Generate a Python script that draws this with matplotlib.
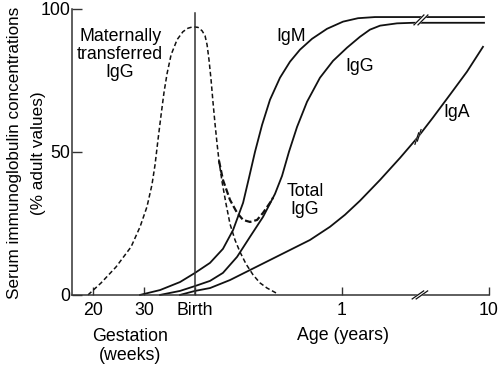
import numpy as np
import matplotlib
matplotlib.use('Agg')
import matplotlib.pyplot as plt
import matplotlib.transforms as mtransforms

plt.rcParams['font.family'] = ['Liberation Sans', 'DejaVu Sans']

# x is the position along the broken axis: birth = 0, 1 year = 1, 10 years = 2
# (gestation weeks sit to the left of birth, 28.8 weeks per unit)
tick_pos = [-0.694, -0.347, 0.0, 1.0, 2.0]
tick_labels = ['20', '30', 'Birth', '1', '10']
y_ticks = [0, 50, 100]

maternal_x = [-0.728, -0.639, -0.537, -0.435, -0.374, -0.327, -0.293, -0.272, -0.252,
              -0.231, -0.211, -0.190, -0.163, -0.122, -0.082, -0.048, -0.014, 0.020,
              0.048, 0.068, 0.082, 0.095, 0.109, 0.122, 0.136, 0.150, 0.163, 0.184,
              0.211, 0.238, 0.272, 0.306, 0.347, 0.395, 0.442, 0.490, 0.565]
maternal_y = [0.0, 4.2, 9.8, 16.8, 23.8, 30.8, 38.5, 45.5, 54.2, 62.9, 70.8, 77.4,
              83.9, 89.2, 92.0, 93.2, 93.7, 93.5, 92.3, 90.6, 87.4, 82.2, 75.2, 67.5,
              59.8, 52.8, 46.9, 39.5, 31.8, 24.8, 19.2, 15.0, 10.8, 7.0, 4.2, 2.4, 0.3]

total_x = [0.163, 0.190, 0.238, 0.286, 0.327, 0.374, 0.422, 0.463, 0.510, 0.531]
total_y = [46.9, 40.2, 33.2, 28.7, 26.2, 25.5, 26.2, 28.7, 32.2, 34.0]

igm_x = [-0.374, -0.238, -0.102, 0.0, 0.102, 0.190, 0.259, 0.327, 0.367, 0.408, 0.456,
         0.510, 0.578, 0.646, 0.714, 0.796, 0.898, 1.007, 1.109, 1.224, 1.966]
igm_y = [0.0, 1.7, 4.5, 7.7, 11.2, 16.1, 22.7, 32.2, 40.9, 50.0, 59.4, 68.2, 75.9,
         81.5, 85.7, 89.5, 93.0, 95.5, 96.7, 97.1, 97.1]

igg_x = [-0.238, -0.102, 0.0, 0.102, 0.190, 0.286, 0.374, 0.463, 0.544, 0.592, 0.639,
         0.694, 0.762, 0.850, 0.939, 1.034, 1.122, 1.190, 1.259, 1.374, 1.483, 1.966]
igg_y = [0.0, 1.4, 3.1, 4.9, 7.7, 13.3, 20.3, 27.3, 35.3, 41.6, 50.0, 58.7, 67.5,
         75.9, 81.8, 86.4, 90.2, 92.7, 94.1, 94.9, 95.1, 95.1]

iga_x = [-0.102, 0.0, 0.102, 0.238, 0.374, 0.510, 0.646, 0.782, 0.918, 1.020, 1.122,
         1.259, 1.395, 1.517, 1.619, 1.735, 1.850, 1.959]
iga_y = [0.0, 1.4, 2.4, 5.2, 8.7, 12.2, 15.7, 19.2, 23.8, 28.0, 32.9, 40.2, 47.9,
         55.2, 62.0, 70.0, 78.0, 86.7]

fig = plt.figure(figsize=(5, 3.65), dpi=100)
ax = fig.add_axes([0.144, 0.192, 0.834, 0.784])
ax.set_xlim(-0.837, 2.0)
ax.set_ylim(0, 100)

ink = '#111111'
ax.plot(maternal_x, maternal_y, color=ink, lw=1.1, ls=(0, (3, 1.8)), clip_on=False)
ax.plot(total_x, total_y, color=ink, lw=1.6, ls=(0, (3, 1.3)), clip_on=False)
ax.plot(igm_x, igm_y, color=ink, lw=1.3, clip_on=False)
ax.plot(igg_x, igg_y, color=ink, lw=1.3, clip_on=False)
ax.plot(iga_x, iga_y, color=ink, lw=1.3, clip_on=False)
ax.plot([0, 0], [0, 98.5], color='#333333', lw=1.1)

for s in ['top', 'right']:
    ax.spines[s].set_visible(False)
for s in ['left', 'bottom']:
    ax.spines[s].set_color('#333333')
    ax.spines[s].set_linewidth(1.1)

ax.set_yticks(y_ticks)
ax.tick_params(axis='y', direction='in', length=7, width=1, color='#333333',
               labelsize=12.8, pad=1)
ax.set_xticks(tick_pos)
ax.set_xticklabels(tick_labels)
ax.tick_params(axis='x', direction='in', length=6, width=1, color='#333333',
               labelsize=12.8, pad=5)


def break_mark(x, y, ang, length, gap, along):
    # two parallel slashes with a white gap, sized in inches around a data point
    trans = fig.dpi_scale_trans + mtransforms.ScaledTranslation(x, y, ax.transData)
    a = np.radians(ang)
    b = np.radians(along)
    hx, hy = np.cos(a) * length / 2, np.sin(a) * length / 2
    gx, gy = np.cos(b) * gap / 2, np.sin(b) * gap / 2
    p1 = [(-gx - hx, -gy - hy), (-gx + hx, -gy + hy)]
    p2 = [(gx - hx, gy - hy), (gx + hx, gy + hy)]
    ax.fill([p1[0][0], p1[1][0], p2[1][0], p2[0][0]],
            [p1[0][1], p1[1][1], p2[1][1], p2[0][1]],
            color='white', transform=trans, clip_on=False, zorder=4)
    for p in (p1, p2):
        ax.plot([p[0][0], p[1][0]], [p[0][1], p[1][1]], color=ink, lw=0.9,
                transform=trans, clip_on=False, zorder=5)


break_mark(1.53, 0, 35, 0.14, 0.04, 0)
break_mark(1.537, 96.1, 45, 0.14, 0.04, 0)
break_mark(1.517, 55.2, 72, 0.12, 0.04, 53)

ax.text(-0.51, 84, 'Maternally\ntransferred\nIgG', ha='center', va='center',
        fontsize=12.8, linespacing=1.1)
ax.text(0.653, 90.2, 'IgM', ha='center', va='center', fontsize=12.8)
ax.text(1.122, 79.7, 'IgG', ha='center', va='center', fontsize=12.8)
ax.text(1.782, 63.6, 'IgA', ha='center', va='center', fontsize=12.8)
ax.text(0.748, 32.9, 'Total\nIgG', ha='center', va='center', fontsize=12.8,
        linespacing=1.05)

xt = ax.get_xaxis_transform()
ax.text(-0.442, -0.178, 'Gestation\n(weeks)', transform=xt, ha='center', va='center',
        fontsize=12.8, linespacing=1.1)
ax.text(1.007, -0.143, 'Age (years)', transform=xt, ha='center', va='center',
        fontsize=12.8)
fig.text(0.030, 0.581, 'Serum immunoglobulin concentrations', rotation=90,
         ha='center', va='center', fontsize=12.3)
fig.text(0.076, 0.581, '(% adult values)', rotation=90, ha='center', va='center',
         fontsize=12.3)

fig.savefig('out.png', dpi=100)
